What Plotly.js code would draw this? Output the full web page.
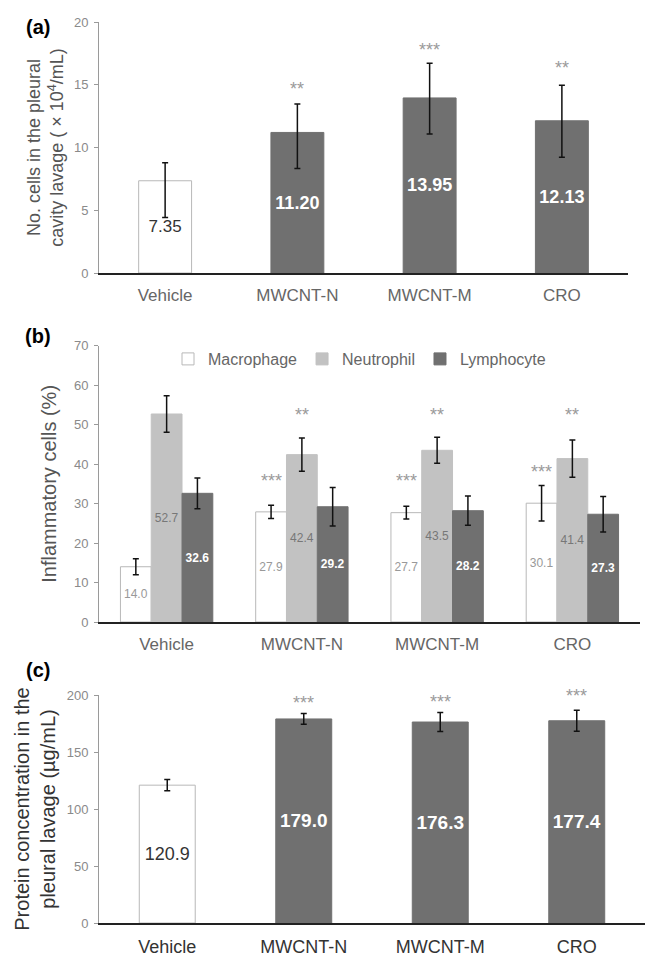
<!DOCTYPE html>
<html>
<head>
<meta charset="utf-8">
<script src="https://cdn.plot.ly/plotly-3.0.1.min.js"></script>
<style>html,body{margin:0;padding:0;background:#fff}#chart{width:645px;height:956px}</style>
</head>
<body>
<div id="chart"></div>
<script>
// ---------- data ----------
var categories = ['Vehicle', 'MWCNT-N', 'MWCNT-M', 'CRO'];

// (a) number of cells in pleural cavity lavage (x10^4/mL)
var cellsMean = [7.35, 11.20, 13.95, 12.13];
var cellsErrPlus = [1.43, 2.27, 2.77, 2.84];
var cellsErrMinus = [2.93, 2.87, 2.87, 2.90];
var cellsStars = ['', '**', '***', '**'];
var cellsStarY = [0, 14.7, 17.8, 16.3];

// (b) inflammatory cells (%)
var seriesNames = ['Macrophage', 'Neutrophil', 'Lymphocyte'];
var macrophage = [14.0, 27.9, 27.7, 30.1];
var macrophageErr = [2.0, 1.7, 1.6, 4.5];
var neutrophil = [52.7, 42.4, 43.5, 41.4];
var neutrophilErr = [4.6, 4.2, 3.3, 4.7];
var lymphocyte = [32.6, 29.2, 28.2, 27.3];
var lymphocyteErr = [3.9, 4.9, 3.7, 4.5];
var macroStars = ['', '***', '***', '***'];
var macroStarY = [0, 35.6, 35.6, 37.9];
var neutroStars = ['', '**', '**', '**'];
var neutroStarY = [0, 52.4, 52.4, 52.4];

// (c) protein concentration (µg/mL)
var proteinMean = [120.9, 179.0, 176.3, 177.4];
var proteinErr = [5.0, 4.7, 8.4, 9.2];
var proteinStars = ['', '***', '***', '***'];
var proteinStarY = [0, 192.8, 193.6, 199.5];

// ---------- styling helpers ----------
var FONT = 'Liberation Sans, Arial, sans-serif';
var W = 645, H = 956;
function px(x) { return x / W; }
function py(y) { return 1 - y / H; }
var DARK = '#707070';
var errStyle = {color: '#111', thickness: 1.5, width: 3};
function firstElse(a, b) { return categories.map(function (c, i) { return i === 0 ? a : b; }); }

var traces = [];

// (a)
traces.push({
  type: 'bar', x: categories, y: cellsMean, xaxis: 'x', yaxis: 'y', width: 0.40, showlegend: false,
  marker: {color: firstElse('#ffffff', DARK), line: {color: firstElse('#b8b8b8', DARK), width: 1}},
  error_y: Object.assign({type: 'data', symmetric: false, array: cellsErrPlus, arrayminus: cellsErrMinus}, errStyle),
  texttemplate: '%{y:.2f}', textposition: 'inside', insidetextanchor: 'middle', textangle: 0, constraintext: 'none',
  textfont: {family: FONT, color: firstElse('#333', '#fff'), size: firstElse(17, 18), weight: firstElse('normal', 'bold')},
  hoverinfo: 'none'
});

// (b)
var bSeries = [
  {y: macrophage, e: macrophageErr, color: '#ffffff', line: '#b8b8b8', tc: '#999'},
  {y: neutrophil, e: neutrophilErr, color: '#c2c2c2', line: '#c2c2c2', tc: '#777'},
  {y: lymphocyte, e: lymphocyteErr, color: DARK, line: DARK, tc: '#fff'}
];
bSeries.forEach(function (s, k) {
  traces.push({
    type: 'bar', name: seriesNames[k], x: categories, y: s.y, xaxis: 'x2', yaxis: 'y2',
    marker: {color: s.color, line: {color: s.line, width: 1}},
    error_y: Object.assign({type: 'data', array: s.e}, errStyle),
    texttemplate: '%{y:.1f}', textposition: 'inside', insidetextanchor: 'middle', textangle: 0, constraintext: 'none',
    textfont: {family: FONT, color: s.tc, size: 12, weight: k === 2 ? 'bold' : 'normal'},
    hoverinfo: 'none'
  });
});

// (c)
traces.push({
  type: 'bar', x: categories, y: proteinMean, xaxis: 'x3', yaxis: 'y3', width: 0.41, showlegend: false,
  marker: {color: firstElse('#ffffff', DARK), line: {color: firstElse('#b8b8b8', DARK), width: 1}},
  error_y: Object.assign({type: 'data', array: proteinErr}, errStyle),
  texttemplate: '%{y:.1f}', textposition: 'inside', insidetextanchor: 'middle', textangle: 0, constraintext: 'none',
  textfont: {family: FONT, color: firstElse('#333', '#fff'), size: firstElse(18, 19), weight: firstElse('normal', 'bold')},
  hoverinfo: 'none'
});

// ---------- axes ----------
function xAxis(domain, anchor, labelColor, lsize) {
  return {domain: domain, anchor: anchor, type: 'category', range: [-0.5, 3.5], showline: true, linecolor: '#222', linewidth: 2,
          ticks: '', showgrid: false, zeroline: false, ticklabelstandoff: 6,
          tickfont: {family: FONT, size: lsize, color: labelColor}, fixedrange: true};
}
function yAxis(domain, anchor, range, dtick, title, tsize, tcolor, standoff) {
  return {domain: domain, anchor: anchor, range: range, dtick: dtick, tick0: 0, showline: true, linecolor: '#9a9a9a', linewidth: 1,
          ticks: 'outside', ticklen: 4, tickcolor: '#9a9a9a', showgrid: false, zeroline: false, ticklabelstandoff: 3,
          tickfont: {family: FONT, size: 13, color: '#8a8a8a'}, fixedrange: true,
          title: {text: title, font: {family: FONT, size: tsize, color: tcolor}, standoff: standoff}};
}

// ---------- annotations ----------
var ann = [];
function stars(arr, ys, xref, yref, shift) {
  arr.forEach(function (s, i) {
    if (!s) return;
    ann.push({x: categories[i], y: ys[i], xref: xref, yref: yref, text: s, showarrow: false, xshift: shift,
              xanchor: 'center', yanchor: 'middle', font: {family: FONT, size: 18, color: '#9a9a9a'}});
  });
}
stars(cellsStars, cellsStarY, 'x', 'y', 0);
stars(macroStars, macroStarY, 'x2', 'y2', -30.7);
stars(neutroStars, neutroStarY, 'x2', 'y2', 0);
stars(proteinStars, proteinStarY, 'x3', 'y3', 0);

[['(a)', 27], ['(b)', 336], ['(c)', 670]].forEach(function (p) {
  ann.push({x: px(38), y: py(p[1]), xref: 'paper', yref: 'paper', text: '<b>' + p[0] + '</b>', showarrow: false,
            xanchor: 'center', yanchor: 'middle', font: {family: FONT, size: 20, color: '#000'}});
});

var layout = {
  width: W, height: H, margin: {l: 0, r: 0, t: 0, b: 0}, paper_bgcolor: '#fff', plot_bgcolor: 'rgba(0,0,0,0)',
  barmode: 'group', bargap: 0.317, bargroupgap: 0,
  font: {family: FONT},
  xaxis: xAxis([px(99), px(628)], 'y', '#666', 17),
  yaxis: yAxis([py(273), py(22)], 'x', [0, 20], 5, 'No. cells in the pleural<br>cavity lavage ( × 10<sup>4</sup>/mL)', 18, '#555', 5),
  xaxis2: xAxis([px(99), px(640)], 'y2', '#666', 17),
  yaxis2: yAxis([py(622), py(345.7)], 'x2', [0, 70], 10, 'Inflammatory cells (%)', 20, '#555', 11),
  xaxis3: xAxis([px(99), 1], 'y3', '#333', 18),
  yaxis3: yAxis([py(923), py(695)], 'x3', [0, 200], 50, 'Protein concentration in the<br>pleural lavage (µg/mL)', 20, '#333', 5),
  legend: {orientation: 'h', x: px(168), y: py(359), xanchor: 'left', yanchor: 'middle', bgcolor: 'rgba(0,0,0,0)',
           font: {family: FONT, size: 16, color: '#666'}, itemwidth: 30, tracegroupgap: 0, traceorder: 'normal'},
  annotations: ann,
  showlegend: true
};

Plotly.newPlot('chart', traces, layout, {displayModeBar: false, staticPlot: true});
</script>
</body>
</html>
